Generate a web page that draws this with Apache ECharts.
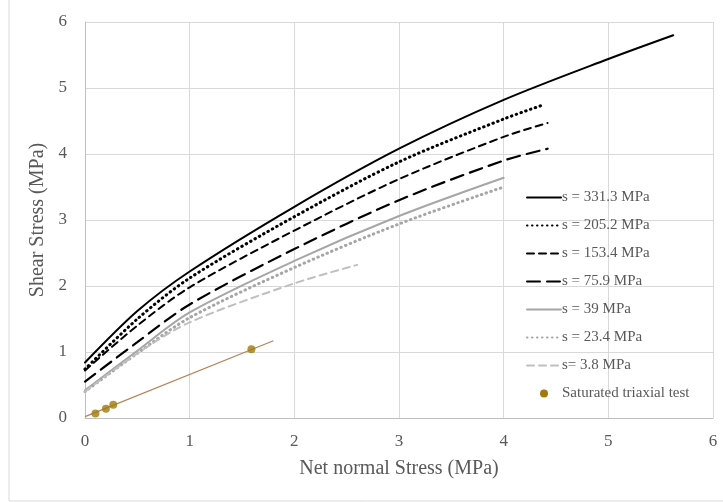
<!DOCTYPE html>
<html lang="en">
<head>
    <meta charset="UTF-8">
    <title>Shear stress vs net normal stress</title>
    <script src="https://cdn.jsdelivr.net/npm/echarts@6/dist/echarts.min.js"></script>
    <style>
        html, body { margin: 0; padding: 0; background: #fff; }
    </style>
</head>
<body>
    <div id="mycharts" style="width: 723px;height:502px;"></div>
    <script>
        // curve data
        var x331 = [0, 0.5, 1, 2, 3, 4, 5, 5.62]
        var y331 = [0.84, 1.62, 2.22, 3.2, 4.08, 4.82, 5.44, 5.8]
        var x205 = [0, 0.5, 1, 2, 3, 4, 4.37]
        var y205 = [0.74, 1.5, 2.12, 3.05, 3.88, 4.53, 4.74]
        var x153 = [0, 0.5, 1, 2, 3, 4, 4.42]
        var y153 = [0.72, 1.4, 1.98, 2.84, 3.62, 4.26, 4.47]
        var x76 = [0, 0.5, 1, 2, 3, 4, 4.42]
        var y76 = [0.55, 1.15, 1.72, 2.56, 3.3, 3.9, 4.08]
        var x39 = [0, 0.5, 1, 2, 3, 4]
        var y39 = [0.42, 1.02, 1.6, 2.38, 3.06, 3.64]
        var x23 = [0, 0.5, 1, 2, 3, 4]
        var y23 = [0.4, 0.98, 1.52, 2.28, 2.94, 3.5]
        var x4 = [0, 0.5, 1, 2, 2.6]
        var y4 = [0.4, 0.98, 1.45, 2.04, 2.32]
        var satX = [0.1, 0.2, 0.27, 1.59]
        var satY = [0.07, 0.14, 0.2, 1.04]
        var fitX = [0, 1.8]
        var fitY = [0.02, 1.17]
        var names = ['s = 331.3 MPa', 's = 205.2 MPa', 's = 153.4 MPa', 's = 75.9 MPa',
            's = 39 MPa', 's = 23.4 MPa', 's= 3.8 MPa', 'Saturated triaxial test']

        function pairs(xs, ys) {
            return xs.map(function (x, i) { return [x, ys[i]] })
        }

        function curve(name, xs, ys, color, type, width) {
            return {
                name: name,
                type: 'line',
                data: pairs(xs, ys),
                symbol: 'none',
                smooth: 0.3,
                lineStyle: { color: color, type: type, width: width, cap: 'round' },
                itemStyle: { color: color },
                z: 3
            }
        }

        var font = 'Liberation Serif'
        var txt = '#595959'
        // hide the default dot in the line legend icons, keep it for the scatter
        var legendData = names.map(function (n, i) {
            return i === 7 ? { name: n, itemStyle: { opacity: 1 } } : { name: n }
        })
        var chart = echarts.init(document.getElementById('mycharts'))
        var options = {
            animation: false,
            graphic: [{
                type: 'rect',
                shape: { x: 9, y: -2, width: 716, height: 503 },
                style: { fill: 'none', stroke: '#d9d9d9', lineWidth: 1 },
                silent: true
            }],
            grid: { left: 85, right: 10, top: 22, bottom: 84 },
            legend: {
                data: legendData,
                orient: 'vertical',
                left: 521,
                top: 185,
                itemWidth: 34,
                itemHeight: 8,
                itemGap: 13,
                itemStyle: { opacity: 0 },
                textStyle: { fontFamily: font, fontSize: 15, color: txt, padding: [0, 0, 0, -4] }
            },
            xAxis: {
                type: 'value',
                min: 0, max: 6, interval: 1,
                name: 'Net normal Stress (MPa)',
                nameLocation: 'middle',
                nameGap: 41,
                nameTextStyle: { fontFamily: font, fontSize: 20, color: txt },
                axisLine: { show: true, lineStyle: { color: '#bfbfbf' } },
                axisTick: { show: false },
                axisLabel: { fontFamily: font, fontSize: 17, color: txt, margin: 15 },
                splitLine: { lineStyle: { color: '#d9d9d9' } }
            },
            yAxis: {
                type: 'value',
                min: 0, max: 6, interval: 1,
                name: 'Shear Stress (MPa)',
                nameLocation: 'middle',
                nameGap: 36,
                nameTextStyle: { fontFamily: font, fontSize: 20, color: txt },
                axisLine: { show: true, lineStyle: { color: '#bfbfbf' } },
                axisTick: { show: false },
                axisLabel: { fontFamily: font, fontSize: 17, color: txt, margin: 18 },
                splitLine: { lineStyle: { color: '#d9d9d9' } }
            },
            series: [
                curve(names[0], x331, y331, '#000000', 'solid', 2),
                curve(names[1], x205, y205, '#000000', [0.5, 4.5], 3),
                curve(names[2], x153, y153, '#000000', [7, 5], 2),
                curve(names[3], x76, y76, '#000000', [13, 7], 2.2),
                curve(names[4], x39, y39, '#a6a6a6', 'solid', 2),
                curve(names[5], x23, y23, '#a6a6a6', [0.5, 4.5], 3),
                curve(names[6], x4, y4, '#bfbfbf', [7, 5], 2),
                {
                    name: names[7],
                    type: 'scatter',
                    data: pairs(satX, satY),
                    symbol: 'circle',
                    symbolSize: 8,
                    itemStyle: { color: '#a07a0a' },
                    z: 5
                },
                {
                    name: 'fit',
                    type: 'line',
                    data: pairs(fitX, fitY),
                    symbol: 'none',
                    lineStyle: { color: '#b7825a', width: 1.2 },
                    z: 4
                }
            ]
        }
        chart.setOption(options)
    </script>
</body>
</html>
